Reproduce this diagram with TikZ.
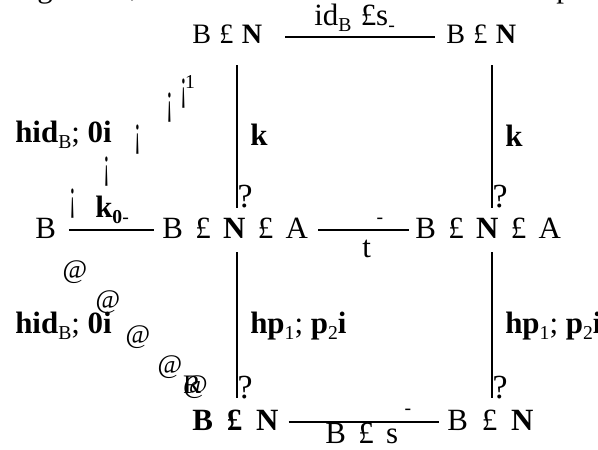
\documentclass[tikz,border=0pt]{standalone}
\usepackage{fontspec}
\setmainfont{Liberation Serif}
\usetikzlibrary{positioning}
\newcommand{\gp}{\hspace{.4em}}
\newcommand{\lowsub}[1]{\raisebox{-.22em}{\fontsize{14}{14}\selectfont #1}}
\newcommand{\thinbang}{\scalebox{.6}[1.3]{¡}}

\begin{document}
\begin{tikzpicture}[
  x=0.025cm, y=-0.025cm,
  toprow/.style={
    anchor=base west,
    inner sep=0pt,
    text height=11pt,
    text depth=3pt,
    font=\fontsize{20}{22}\selectfont
  },
  obj/.style={
    anchor=base west,
    inner sep=0pt,
    text height=14pt,
    text depth=2pt,
    font=\fontsize{22}{24}\selectfont
  },
  lbl/.style={anchor=base west, inner sep=0pt, font=\fontsize{22}{24}\selectfont},
  qhead/.style={inner sep=0pt, font=\fontsize{24}{26}\selectfont},
  hhead/.style={inner sep=0pt, font=\fontsize{14}{14}\selectfont},
  slash/.style={inner sep=0pt, font=\fontsize{24}{24}\selectfont},
  atsign/.style={inner sep=0pt, font=\fontsize{19}{19}\selectfont},
  bar/.style={line width=1.5pt},
  vbar/.style={line width=1.6pt}
]
\useasboundingbox (0,0) rectangle (598,449);

% cut-off line of the text above
\begin{scope}
\clip (0,0) rectangle (598,449);
\node[lbl] (frag1) at (37,-3) {g};
\node[lbl] (frag2) at (130,-4) {,};
\node[lbl] (frag3) at (556,-3) {p};
\end{scope}

\node[toprow] (tl) at (192,43) {B\hspace{.3em}£\hspace{.3em}\textbf{N}};
\node[toprow] (tr) at (446,43) {B\hspace{.3em}£\hspace{.3em}\textbf{N}};
\node[obj] (mb) at (35,238) {B};
\node[obj] (ml) at (162,238) {B\gp£\gp\textbf{N}\gp£\gp A};
\node[obj] (mr) at (415,238) {B\gp£\gp\textbf{N}\gp£\gp A};
\node[obj] (bl) at (192,430) {\textbf{B\hspace{.45em}£\hspace{.45em}N}};
\node[obj] (br) at (447,430) {B\hspace{.45em}£\hspace{.45em}\textbf{N}};

\node[lbl] (idlab) at (314,25) {id\lowsub{B}\hspace{.3em}£s\lowsub{-}};
\node[lbl] (kleft) at (250,145) {\textbf{k}};
\node[lbl] (kright) at (505,146) {\textbf{k}};
\node[lbl] (pairup) at (15,142) {\textbf{hid}\lowsub{B}; \textbf{0i}};
\node[lbl] (pairdown) at (15,333) {\textbf{hid}\lowsub{B}; \textbf{0i}};
\node[lbl] (kzero) at (95,217) {\textbf{k}\lowsub{\textbf{0}-}};
\node[lbl] (tlab) at (362,257) {t};
\node[lbl] (projl) at (250,333) {\textbf{hp}\lowsub{1}; \textbf{p}\lowsub{2}\textbf{i}};
\node[lbl] (projr) at (505,333) {\textbf{hp}\lowsub{1}; \textbf{p}\lowsub{2}\textbf{i}};
\node[lbl] (bslab) at (325,443) {B\gp£\gp s};

% heads
\node[qhead] (q1) at (245,197) {?};
\node[qhead] (q2) at (500,197) {?};
\node[qhead] (q3) at (245,388) {?};
\node[qhead] (q4) at (500,388) {?};
\node[hhead] (h1) at (380,221) {-};
\node[hhead] (h2) at (408,412) {-};

% broken diagonals
\foreach \px/\py [count=\i] in {73/204,107/172,138/140,170/108}
  \node[slash] (sl\i) at (\px,\py) {\thinbang};
\node[slash] (sltip) at (188,92) {\rlap{\thinbang}\kern3pt\raisebox{8pt}{\fontsize{14}{14}\selectfont 1}};
\foreach \px/\py [count=\i] in {75/272,108/302,138/337,170/367}
  \node[atsign] (at\i) at (\px,\py) {@};
\node[atsign] (attip) at (192,387) {\rlap{@}R};

\coordinate (lu1) at (237,65);
\coordinate (lu2) at (237,208);
\coordinate (ld1) at (237,252);
\coordinate (ld2) at (237,398);
\coordinate (ru1) at (492,65);
\coordinate (ru2) at (492,208);
\coordinate (rd1) at (492,252);
\coordinate (rd2) at (492,398);

\draw[bar, shorten <=16pt, shorten >=8pt] (tl.east) -- (tr.west);
\draw[bar, shorten <=9pt, shorten >=6pt] (mb.east) -- (ml.west);
\draw[bar, shorten <=7pt, shorten >=4pt] (ml.east) -- (mr.west);
\draw[bar, shorten <=7pt, shorten >=6pt] (bl.east) -- (br.west);

\draw[vbar] (lu1) -- (lu2);
\draw[vbar] (ru1) -- (ru2);
\draw[vbar] (ld1) -- (ld2);
\draw[vbar] (rd1) -- (rd2);

\end{tikzpicture}
\end{document}
